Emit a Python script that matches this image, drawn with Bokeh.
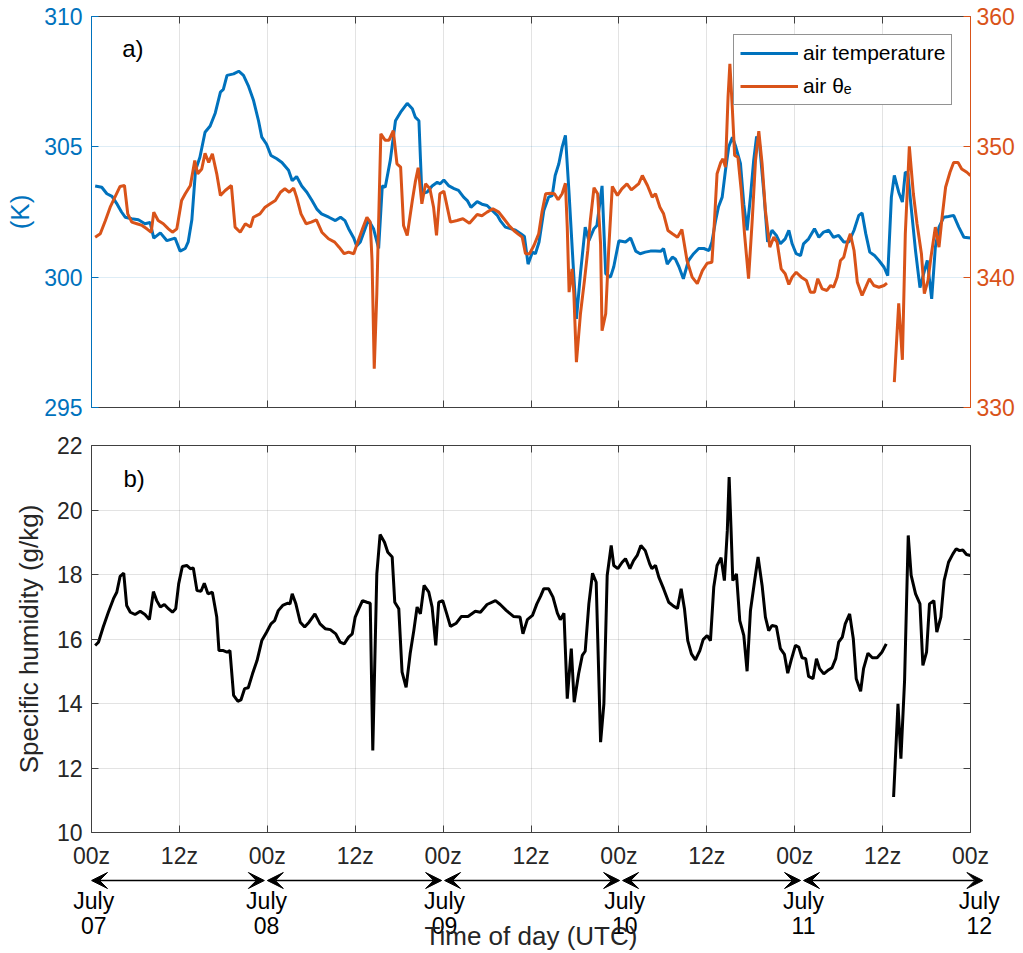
import numpy as np
from bokeh.plotting import figure
from bokeh.models import (Range1d, LinearAxis, FixedTicker, Legend, LegendItem,
                          Label, Arrow, VeeHead, ColumnDataSource)
from bokeh.layouts import column
from bokeh.embed import file_html
from bokeh.resources import INLINE

# ---------------- data ----------------
x_ticks = [0, 12, 24, 36, 48, 60, 72, 84, 96, 108, 120]
x_tick_labels = ["00z", "12z", "00z", "12z", "00z", "12z", "00z", "12z", "00z", "12z", "00z"]
temp_ticks = [295, 300, 305, 310]
theta_ticks = [330, 340, 350, 360]
q_ticks = [10, 12, 14, 16, 18, 20, 22]

# hours since 07 July 00z
t_air = [0.5, 1.4, 2.1, 2.8, 3.5, 4.1, 4.6, 5.5, 6.4, 7.3, 8.0, 8.5, 9.4, 10.3, 11.4, 12.1, 12.8, 13.2,
         13.7, 14.2, 14.8, 15.5, 16.2, 16.9, 17.6, 18.0, 18.5, 19.4, 20.1, 20.75, 21.4, 22.1, 22.8, 23.25,
         23.9, 24.5, 25.3, 26.0, 26.9, 27.4, 28.0, 28.7, 29.4, 30.1, 30.8, 31.4, 32.4, 33.3, 34.0, 34.6,
         35.1, 35.8, 36.2, 36.7, 37.4, 37.8, 38.5, 39.2, 39.7, 40.1, 40.8, 41.5, 42.2, 43.1, 43.8, 44.2,
         44.7, 45.1, 45.8, 46.5, 47.2, 47.6, 48.1, 48.8, 49.5, 50.1, 50.8, 51.3, 51.8, 52.65, 53.3, 54.0,
         54.7, 55.4, 55.8, 56.5, 57.2, 57.9, 58.6, 59.1, 59.6, 60.2, 60.6, 61.1, 61.75, 62.4, 62.9, 63.3,
         63.8, 64.25, 64.7, 65.2, 65.75, 66.2, 66.75, 67.4, 67.9, 68.6, 69.0, 69.7, 70.2, 70.85, 71.3,
         72.0, 72.9, 73.6, 74.3, 74.9, 75.6, 76.3, 77.0, 77.7, 78.1, 78.6, 79.3, 79.7, 80.2, 80.8, 81.5,
         82.2, 82.9, 83.6, 84.3, 84.7, 85.2, 85.6, 86.1, 86.55, 87.0, 87.5, 87.9, 88.6, 89.05, 89.5, 90.0,
         90.4, 90.8, 91.2, 91.8, 92.3, 92.9, 93.5, 94.05, 94.7, 95.2, 95.65, 96.2, 96.8, 97.2, 97.9, 98.7,
         99.3, 99.95, 100.65, 101.3, 102.0, 102.7, 103.4, 104.1, 104.75, 105.2, 105.7, 106.25, 106.9,
         107.5, 108.2, 108.7, 109.2, 109.6, 110.2, 110.7, 111.1, 111.45, 111.9, 112.5, 113.1, 113.6,
         114.1, 114.7, 115.2, 115.7, 116.35, 117.0, 117.7, 118.4, 119.1, 120.0]
air_temp = [303.5, 303.45, 303.2, 303.1, 302.8, 302.5, 302.3, 302.24, 302.2, 302.05, 302.1, 301.5, 301.7,
            301.4, 301.5, 301.0, 301.1, 301.35, 302.2, 304.1, 304.6, 305.56, 305.8, 306.3, 307.1, 307.2,
            307.74, 307.8, 307.9, 307.74, 307.35, 306.8, 306.0, 305.37, 305.1, 304.67, 304.54, 304.4,
            304.1, 303.7, 303.86, 303.5, 303.26, 302.94, 302.6, 302.43, 302.3, 302.17, 302.3, 302.17,
            301.86, 301.5, 301.2, 301.35, 301.9, 302.2, 301.86, 301.1, 303.5, 303.45, 304.5, 306.0,
            306.33, 306.67, 306.46, 306.14, 306.0, 303.2, 303.26, 303.5, 303.64, 303.58, 303.73, 303.5,
            303.4, 303.33, 303.07, 302.94, 302.68, 302.9, 302.8, 302.75, 302.56, 302.37, 302.17, 301.92,
            301.86, 301.8, 301.67, 301.56, 300.5, 300.96, 300.9, 301.35, 302.56, 303.07, 303.13, 303.9,
            304.35, 304.99, 305.44, 303.2, 300.5, 298.4, 300.13, 301.92, 301.4, 301.86, 301.98, 303.5,
            300.13, 300.0, 300.4, 301.4, 301.35, 301.5, 301.0, 300.9, 300.96, 301.0, 301.0, 300.99,
            301.1, 300.5, 300.77, 300.7, 300.4, 299.94, 300.64, 300.9, 301.1, 301.1, 301.02, 301.35,
            302.17, 302.7, 303.07, 304.1, 305.0, 305.37, 305.05, 304.35, 302.8, 301.8, 303.2, 304.48,
            305.4, 305.1, 303.2, 301.35, 301.8, 301.6, 301.28, 301.47, 301.8, 301.28, 300.9, 300.83,
            301.28, 301.47, 301.86, 301.53, 301.73, 301.8, 301.53, 301.6, 301.35, 301.35, 301.8, 302.37,
            302.46, 301.67, 300.96, 300.83, 300.64, 300.38, 300.06, 303.07, 303.9, 303.26, 302.88,
            304.03, 303.97, 302.68, 301.0, 299.6, 300.13, 300.64, 299.17, 301.15, 301.92, 302.3, 302.33,
            302.37, 301.92, 301.53, 301.5]

t_theta = [0.5, 1.2, 1.9, 2.55, 3.2, 3.9, 4.5, 4.95, 5.5, 6.2, 6.9, 7.55, 8.15, 8.5, 9.1, 9.8, 10.5, 11.05,
           11.65, 12.3, 12.8, 13.5, 14.1, 14.5, 15.05, 15.5, 16.0, 16.5, 17.1, 17.6, 18.25, 19.1, 19.6,
           20.3, 21.0, 21.7, 22.1, 23.0, 23.7, 24.4, 25.1, 25.8, 26.4, 27.0, 27.6, 28.0, 28.6, 29.3, 30.0,
           30.7, 31.45, 32.35, 33.2, 33.8, 34.5, 35.1, 35.8, 36.35, 37.0, 37.6, 38.05, 38.3, 38.6, 38.95,
           39.5, 40.1, 40.6, 41.2, 41.7, 42.2, 42.6, 43.1, 43.8, 44.2, 44.6, 45.1, 45.6, 46.2, 46.7, 47.1,
           47.55, 48.1, 49.0, 49.9, 50.7, 51.6, 52.65, 53.3, 54.0, 54.8, 55.6, 56.3, 57.0, 57.65, 58.3,
           58.8, 59.25, 59.8, 60.4, 61.05, 61.5, 62.0, 62.7, 63.2, 63.7, 64.25, 64.7, 64.95, 65.2, 65.6,
           65.85, 66.2, 66.75, 67.3, 67.75, 68.1, 68.6, 69.1, 69.5, 69.7, 70.2, 70.6, 71.1, 71.8, 72.4,
           73.1, 73.7, 74.4, 74.7, 75.2, 75.9, 76.55, 77.0, 77.6, 78.1, 78.7, 79.3, 80.0, 80.6, 81.3,
           82.0, 82.7, 83.4, 84.05, 84.7, 85.05, 85.4, 85.9, 86.2, 86.55, 86.9, 87.15, 87.5, 87.8, 88.25,
           88.7, 89.15, 89.7, 90.2, 90.65, 91.1, 91.55, 92.0, 92.6, 93.15, 93.6, 94.15, 94.7, 95.2,
           95.65, 96.2, 96.9, 97.6, 98.15, 98.7, 99.15, 99.75, 100.4, 100.9, 101.3, 101.8, 102.25,
           102.7, 103.2, 103.6, 104.1, 104.55, 105.2, 105.7, 106.2, 106.8, 107.5, 108.2, 108.6, 109.0,
           109.6, 110.2, 110.7, 111.1, 111.65, 112.2, 112.7, 113.3, 113.7, 114.2, 114.6, 115.2, 115.7,
           116.1, 116.6, 117.2, 117.7, 118.3, 118.8, 119.5, 120.0]
air_theta_e = [343.07, 343.33, 344.35, 345.37, 346.14, 346.96, 347.03, 344.86, 344.22, 344.1, 343.97,
               343.71, 343.45, 344.99, 344.35, 344.1, 343.71, 343.45, 343.71, 345.88, 346.4, 347.03,
               348.95, 347.93, 348.3, 349.5, 348.8, 349.47, 347.93, 346.27, 346.65, 347.03, 343.84,
               343.45, 344.1, 343.84, 344.6, 344.86, 345.37, 345.63, 345.88, 346.52, 346.78, 346.52,
               346.83, 346.14, 344.86, 344.1, 344.22, 344.4, 343.45, 342.95, 342.69, 342.3, 341.8,
               341.92, 341.8, 342.69, 343.71, 344.6, 344.22, 341.28, 332.97, 338.73, 351.0, 350.5,
               350.5, 351.25, 348.7, 348.44, 343.97, 343.2, 345.88, 347.29, 348.4, 345.63, 347.16,
               346.78, 345.37, 343.2, 346.4, 346.6, 344.22, 344.35, 344.48, 344.14, 344.81, 344.71,
               344.99, 345.25, 344.99, 344.48, 343.97, 343.58, 343.28, 343.07, 341.8, 341.8, 342.43,
               343.33, 344.99, 346.4, 346.44, 346.4, 345.94, 346.4, 347.21, 343.84, 338.85, 340.64,
               338.73, 333.48, 337.19, 339.75, 342.05, 344.35, 346.86, 346.4, 342.56, 335.9, 337.19,
               342.05, 346.96, 346.27, 346.78, 347.16, 346.7, 347.03, 347.16, 347.8, 347.03, 346.14,
               346.4, 345.37, 344.86, 343.58, 343.33, 343.07, 343.65, 341.28, 340.0, 339.5, 340.5,
               341.07, 341.15, 344.35, 347.93, 348.8, 349.08, 348.44, 353.8, 356.37, 352.79, 349.34,
               349.2, 346.65, 343.33, 339.88, 344.35, 348.95, 351.2, 348.7, 345.12, 342.3, 343.07,
               342.69, 340.64, 340.26, 339.44, 340.0, 340.38, 340.0, 339.75, 338.85, 338.85, 339.88,
               339.1, 338.98, 339.36, 339.23, 340.0, 341.28, 341.53, 342.69, 343.33, 342.05, 339.62,
               338.6, 339.23, 339.88, 339.36, 339.23, 339.36, 339.54, np.nan, 331.95, 338.0, 333.66,
               343.33, 350.03, 346.4, 344.1, 341.8, 338.73, 339.75, 341.53, 343.84, 342.3, 344.48,
               346.9, 348.05, 348.8, 348.8, 348.3, 348.05, 347.8]

t_q = [0.5, 0.95, 1.6, 2.3, 3.0, 3.45, 3.9, 4.4, 4.8, 5.3, 5.95, 6.65, 7.3, 7.9, 8.45, 8.9, 9.4, 9.95, 10.5,
       11.05, 11.5, 11.9, 12.4, 13.0, 13.5, 13.9, 14.4, 14.95, 15.4, 15.9, 16.5, 17.1, 17.4, 18.0, 18.5,
       18.9, 19.4, 19.97, 20.4, 20.9, 21.4, 21.98, 22.6, 23.25, 23.9, 24.5, 25.0, 25.5, 26.1, 26.8, 27.1,
       27.4, 27.9, 28.5, 29.1, 29.7, 30.5, 31.2, 31.9, 32.6, 33.35, 33.95, 34.5, 35.1, 35.6, 36.0, 36.5,
       37.0, 37.6, 38.05, 38.4, 38.95, 39.4, 40.0, 40.45, 41.05, 41.4, 41.95, 42.4, 42.95, 43.5, 44.0,
       44.45, 44.9, 45.4, 46.05, 46.5, 47.0, 47.4, 47.95, 48.5, 49.0, 49.8, 50.5, 51.4, 52.4, 53.1,
       54.0, 55.15, 55.8, 56.65, 57.6, 58.5, 58.9, 59.5, 60.2, 60.8, 61.3, 61.75, 62.4, 63.0, 63.6,
       64.0, 64.5, 64.95, 65.5, 65.9, 66.5, 67.0, 67.4, 67.9, 68.4, 68.9, 69.5, 69.95, 70.4, 70.95,
       71.3, 71.85, 72.45, 72.9, 73.5, 74.0, 74.5, 75.0, 75.6, 76.2, 76.5, 77.0, 77.45, 78.1, 78.8,
       79.5, 80.0, 80.5, 80.95, 81.4, 81.9, 82.45, 83.05, 83.5, 84.05, 84.5, 84.95, 85.4, 85.95, 86.4,
       86.8, 87.05, 87.3, 87.55, 88.05, 88.5, 89.05, 89.5, 89.96, 90.5, 91.0, 91.55, 92.0, 92.45, 92.9,
       93.5, 94.05, 94.6, 95.05, 95.5, 96.1, 96.55, 97.0, 97.5, 97.9, 98.5, 98.97, 99.4, 99.97, 100.5,
       101.1, 101.6, 102.0, 102.5, 102.9, 103.5, 104.0, 104.4, 105.0, 105.4, 106.0, 106.6, 107.25,
       107.9, 108.5, 109.0, 109.5, 110.1, 110.5, 111.0, 111.5, 111.9, 112.5, 113.1, 113.5, 114.0,
       114.4, 115.0, 115.4, 115.95, 116.4, 117.0, 117.6, 118.05, 118.5, 118.95, 119.45, 120.0]
spec_hum = [15.8, 15.9, 16.37, 16.83, 17.25, 17.45, 17.94, 18.04, 17.04, 16.83, 16.76, 16.86, 16.76, 16.6,
            17.47, 17.19, 16.99, 17.07, 16.94, 16.83, 16.94, 17.71, 18.25, 18.28, 18.18, 18.2, 17.5,
            17.48, 17.73, 17.4, 17.45, 16.68, 15.64, 15.64, 15.59, 15.64, 14.25, 14.07, 14.11, 14.46,
            14.49, 14.92, 15.33, 15.95, 16.21, 16.47, 16.57, 16.88, 17.04, 17.11, 17.09, 17.4, 17.09,
            16.52, 16.37, 16.52, 16.78, 16.47, 16.32, 16.29, 16.16, 15.9, 15.85, 16.06, 16.16, 16.68,
            16.94, 17.19, 17.14, 17.11, 12.54, 18.02, 19.24, 19.0, 18.69, 18.54, 17.14, 16.94, 14.97,
            14.5, 15.54, 16.26, 16.99, 16.78, 17.66, 17.45, 16.99, 15.8, 17.14, 17.19, 16.78, 16.39,
            16.49, 16.7, 16.7, 16.86, 16.83, 17.07, 17.19, 17.07, 16.88, 16.7, 16.68, 16.16, 16.6,
            16.73, 17.09, 17.32, 17.56, 17.56, 17.3, 16.8, 16.6, 16.8, 14.15, 15.7, 14.04, 14.92,
            15.49, 15.62, 17.09, 18.04, 17.76, 12.8, 13.99, 17.97, 18.9, 18.28, 18.18, 18.38, 18.49,
            18.18, 18.43, 18.59, 18.9, 18.74, 18.33, 18.18, 18.28, 17.92, 17.56, 17.14, 17.01, 16.95,
            17.56, 16.94, 15.95, 15.54, 15.35, 15.64, 15.98, 16.11, 15.95, 17.61, 18.28, 18.52, 17.81,
            19.36, 21.02, 19.47, 17.81, 18.02, 16.57, 16.11, 15.0, 16.88, 17.76, 18.54, 17.66, 16.68,
            16.26, 16.42, 16.39, 15.7, 15.52, 14.94, 15.33, 15.8, 15.75, 15.42, 15.39, 14.84, 14.77,
            15.39, 15.08, 14.92, 15.02, 15.11, 15.39, 15.9, 16.06, 16.47, 16.78, 16.01, 14.77, 14.38,
            15.08, 15.56, 15.42, 15.42, 15.59, 15.85, np.nan, 11.1, 13.99, 12.29, 14.71, 19.21, 17.97,
            17.4, 17.09, 15.18, 15.59, 17.09, 17.19, 16.21, 16.68, 17.81, 18.38, 18.64, 18.8, 18.74,
            18.76, 18.62, 18.59]

# date annotation below the time axis (hours since 07 July 00z)
day_names = ["July", "July", "July", "July", "July", "July"]
day_numbers = ["07", "08", "09", "10", "11", "12"]
day_hours = [0.3, 23.9, 48.2, 72.8, 97.2, 121.2]
arrow_start = [0.0, 24.0, 48.2, 72.5, 97.2]
arrow_end = [23.6, 47.8, 72.1, 96.8, 121.7]
x_title = "Time of day (UTC)"
x_title_hour = 60

# ---------------- style ----------------
FONT = "Liberation Sans"
BLUE = "#0072BD"
ORANGE = "#D95319"
DARK = "#262626"
EDGE = "#404040"
TICK_FS = "23px"
LAB_FS = "26px"
LEFT_B, RIGHT_B = 91, 53
FRAME_W = 879
PX_PER_H = FRAME_W / 120.0


def hide_labels(ax, ticks):
    ax.major_label_text_font_size = "0px"
    ax.major_label_standoff = 0
    ax.major_label_overrides = {t: "" for t in ticks}


def style_axis(ax, color, ticks):
    ax.ticker = FixedTicker(ticks=ticks)
    ax.axis_line_color = color
    ax.major_tick_line_color = color
    ax.minor_tick_line_color = None
    ax.major_tick_in = 7
    ax.major_tick_out = 0
    ax.major_label_text_color = color
    ax.major_label_text_font = FONT
    ax.major_label_text_font_size = TICK_FS
    ax.axis_label_text_font = FONT
    ax.axis_label_text_font_size = LAB_FS
    ax.axis_label_text_font_style = "normal"
    ax.axis_label_text_color = color


def text_axis(ticks, labels, size, standoff, color="black"):
    ax = LinearAxis(ticker=FixedTicker(ticks=ticks))
    ax.major_label_overrides = {t: s for t, s in zip(ticks, labels)}
    ax.axis_line_color = None
    ax.major_tick_line_color = None
    ax.minor_tick_line_color = None
    ax.major_tick_in = 0
    ax.major_tick_out = 0
    ax.major_label_standoff = standoff
    ax.major_label_text_font = FONT
    ax.major_label_text_font_size = size
    ax.major_label_text_color = color
    return ax


xr = Range1d(0, 120)

# ---------------- panel a ----------------
p1 = figure(x_range=xr, y_range=Range1d(295, 310), frame_width=FRAME_W, frame_height=391,
            min_border_left=LEFT_B, min_border_right=RIGHT_B, min_border_top=16, min_border_bottom=18,
            output_backend="svg", toolbar_location=None)
p1.extra_y_ranges = {"theta": Range1d(330, 360)}
p1.outline_line_color = None

style_axis(p1.xaxis[0], EDGE, x_ticks)
hide_labels(p1.xaxis[0], x_ticks)
style_axis(p1.yaxis[0], BLUE, temp_ticks)
p1.yaxis[0].axis_label = "(K)"
p1.yaxis[0].major_label_standoff = 9
p1.yaxis[0].axis_label_standoff = 6

ax_r = LinearAxis(y_range_name="theta")
style_axis(ax_r, ORANGE, theta_ticks)
ax_r.major_label_standoff = 6
p1.add_layout(ax_r, "right")

ax_t = LinearAxis()
style_axis(ax_t, EDGE, x_ticks)
hide_labels(ax_t, x_ticks)
p1.add_layout(ax_t, "above")

p1.xgrid.ticker = FixedTicker(ticks=x_ticks)
p1.xgrid.grid_line_color = DARK
p1.xgrid.grid_line_alpha = 0.13
p1.ygrid.ticker = FixedTicker(ticks=temp_ticks)
p1.ygrid.grid_line_color = BLUE
p1.ygrid.grid_line_alpha = 0.13

r_air = p1.line(t_air, air_temp, line_color=BLUE, line_width=3)
r_the = p1.line(t_theta, air_theta_e, line_color=ORANGE, line_width=3, y_range_name="theta")

legend = Legend(items=[LegendItem(label="air temperature", renderers=[r_air]),
                       LegendItem(label="air θₑ", renderers=[r_the])],
                location=(642, 302))
legend.label_text_font = FONT
legend.label_text_font_size = "21px"
legend.label_text_color = "black"
legend.glyph_width = 58
legend.glyph_height = 24
legend.label_height = 24
legend.label_standoff = 5
legend.padding = 6
legend.spacing = 9
legend.margin = 0
legend.border_line_color = DARK
legend.border_line_width = 1
legend.background_fill_color = "white"
legend.background_fill_alpha = 1.0
p1.add_layout(legend)

p1.add_layout(Label(x=4.2, y=308.76, text="a)", text_baseline="middle", text_font=FONT,
                    text_font_size="24px", text_color="black"))

# ---------------- panel b ----------------
p2 = figure(x_range=xr, y_range=Range1d(10, 22), frame_width=FRAME_W, frame_height=387,
            min_border_left=LEFT_B, min_border_right=RIGHT_B, min_border_top=20, min_border_bottom=38,
            output_backend="svg", toolbar_location=None)
p2.outline_line_color = None

style_axis(p2.xaxis[0], EDGE, x_ticks)
p2.xaxis[0].major_label_overrides = {t: lab for t, lab in zip(x_ticks, x_tick_labels)}
p2.xaxis[0].major_label_text_color = DARK
p2.xaxis[0].major_label_standoff = 10

style_axis(p2.yaxis[0], EDGE, q_ticks)
p2.yaxis[0].major_label_text_color = DARK
p2.yaxis[0].axis_label = "Specific humidity (g/kg)"
p2.yaxis[0].axis_label_text_color = DARK
p2.yaxis[0].major_label_standoff = 9
p2.yaxis[0].axis_label_standoff = 10

ax2_t = LinearAxis()
style_axis(ax2_t, EDGE, x_ticks)
hide_labels(ax2_t, x_ticks)
p2.add_layout(ax2_t, "above")

ax2_r = LinearAxis()
style_axis(ax2_r, EDGE, q_ticks)
hide_labels(ax2_r, q_ticks)
p2.add_layout(ax2_r, "right")

p2.xgrid.ticker = FixedTicker(ticks=x_ticks)
p2.xgrid.grid_line_color = DARK
p2.xgrid.grid_line_alpha = 0.13
p2.ygrid.ticker = FixedTicker(ticks=q_ticks)
p2.ygrid.grid_line_color = DARK
p2.ygrid.grid_line_alpha = 0.13

p2.line(t_q, spec_hum, line_color="black", line_width=3)

p2.add_layout(Label(x=4.37, y=20.99, text="b)", text_baseline="middle", text_font=FONT,
                    text_font_size="24px", text_color="black"))

# ---------------- date strip (same time scale, reaching the right edge) ----------------
P3_FRAME_W = 1023 - LEFT_B
p3 = figure(x_range=Range1d(0, P3_FRAME_W / PX_PER_H), y_range=Range1d(0, 1),
            frame_width=P3_FRAME_W, frame_height=18,
            min_border_left=LEFT_B, min_border_right=0, min_border_top=0, min_border_bottom=0,
            output_backend="svg", toolbar_location=None,
            x_axis_location=None, y_axis_location=None)
p3.outline_line_color = None
p3.xgrid.visible = False
p3.ygrid.visible = False

arrow_src = ColumnDataSource(dict(xs=arrow_start, xe=arrow_end, y=[0.5] * len(arrow_start)))
p3.add_layout(Arrow(start=VeeHead(size=16, fill_color="black", line_color="black"),
                    end=VeeHead(size=16, fill_color="black", line_color="black"),
                    x_start="xs", y_start="y", x_end="xe", y_end="y", source=arrow_src,
                    line_color="black", line_width=1.3))

p3.add_layout(text_axis(day_hours, day_names, "23px", -2), "below")
p3.add_layout(text_axis(day_hours, day_numbers, "23px", 0), "below")
p3.add_layout(text_axis([x_title_hour], [x_title], "26px", -16, DARK), "below")

layout = column(p1, p2, p3, spacing=0)
open("out.html", "w").write(file_html(layout, INLINE))
